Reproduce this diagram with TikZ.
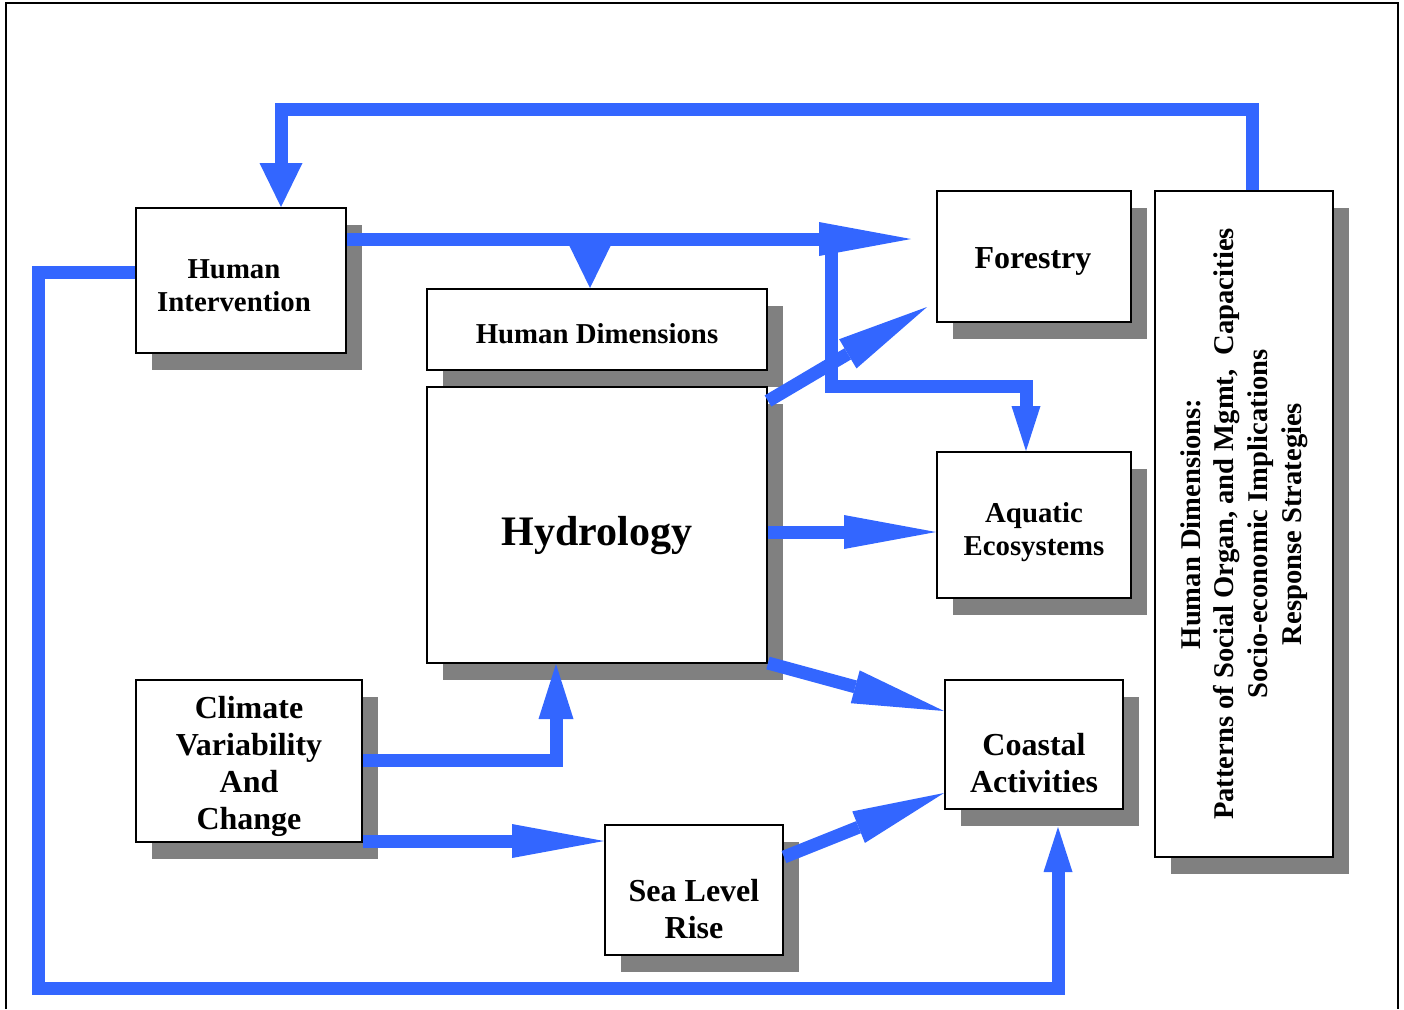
\documentclass[tikz,border=0pt]{standalone}
\usepackage{fontspec}
\setmainfont{Liberation Serif}
\usepackage{tikz}
\usetikzlibrary{arrows.meta,shadows}

\definecolor{flowblue}{RGB}{51,102,255}

\begin{document}
\begin{tikzpicture}[x=0.5pt,y=-0.5pt,
  main box/.style={draw,line width=1pt,fill=white,inner sep=0pt,
    drop shadow={shadow xshift=8pt,shadow yshift=-8.5pt,fill=black!50,opacity=1}},
  small text/.style={align=center,font=\fontsize{14.4}{16.5}\selectfont\bfseries},
  big text/.style={align=center,font=\fontsize{16}{18.5}\selectfont\bfseries},
  flow/.style={draw=flowblue,line width=6.5pt},
  long head/.style={-{Triangle[length=46pt,width=17pt,line width=0pt]}},
  mid head/.style={-{Triangle[length=27.5pt,width=17.5pt,line width=0pt]}},
  wide head/.style={-{Triangle[length=22pt,width=21.5pt,line width=0pt]}},
  short head/.style={-{Triangle[length=22.5pt,width=14.5pt,line width=0pt]}}]

  \useasboundingbox (0,0) rectangle (1404,1009);
  \draw [line width=1pt] (6,1009) -- (6,3) -- (1398,3) -- (1398,1009);

  \node[main box,minimum width=105pt,minimum height=72.5pt,
    label={[small text,shift={(-3.5pt,-2.5pt)}]center:Human\\Intervention}] (hi) at (241,280.5) {};
  \node[main box,minimum width=170pt,minimum height=40.5pt,
    label={[small text,shift={(0pt,-2pt)}]center:Human Dimensions}] (hd) at (597,329.5) {};
  \node[main box,minimum width=170pt,minimum height=138pt,
    label={[font=\fontsize{21}{25}\selectfont\bfseries,shift={(0pt,-5.5pt)}]center:Hydrology}] (hydro) [below of=hd,node distance=97.75pt] {};
  \node[main box,minimum width=113pt,minimum height=81pt,
    label={[big text,shift={(0pt,-2.5pt)}]center:Climate\\Variability\\And\\Change}] (climate) at (249,761) {};
  \node[main box,minimum width=89pt,minimum height=65pt,
    label={[big text,shift={(0pt,-9.5pt)}]center:Sea Level\\Rise}] (sea) at (694,890) {};

  \node[main box,minimum width=97pt,minimum height=65.5pt,
    label={[big text,shift={(-0.5pt,-2.5pt)}]center:Forestry}] (forest) at (1034,256.5) {};
  \node[main box,minimum width=97pt,minimum height=73pt,
    label={[small text,shift={(0pt,-3.5pt)}]center:Aquatic\\Ecosystems}] (aqua) [below of=forest,node distance=134.25pt] {};
  \node[main box,minimum width=89pt,minimum height=64.5pt,
    label={[big text,shift={(0pt,-9.5pt)}]center:Coastal\\Activities}] (coast) [below of=aqua,node distance=109.75pt] {};

  \node[main box,minimum width=89pt,minimum height=333pt] (resp) at (1244,524) {};
  \node[rotate=90,align=center,font=\fontsize{14.3}{16.8}\selectfont\bfseries] (resptext) at (resp) {Human Dimensions:\\Patterns of Social Organ, and Mgmt,\ \ Capacities\\Socio-economic Implications\\Response Strategies};

  \draw [flow,wide head] (resp.north -| 1252,0) |- (281,109) -- (hi.north -| 281,0);
  \draw [flow,short head,shorten >=8.5pt] (hi.west |- 0,272) -| (38,988) -| (coast.south -| 1058,0);

  \draw [flow,long head,shorten >=12.5pt] (hi.east |- 0,239) -- (forest.west |- 0,239);
  \draw [flow,wide head] (590,239) -- (hd.north -| 590,0);
  \draw [flow,short head] (831,239) |- (1026,386) -- (aqua.north -| 1026,0);

  \draw [flow,long head] (hydro.east |- 0,401) -- ([shift={(-9,-16)}]forest.south west);
  \draw [flow,long head] (hydro.east |- 0,532) -- (aqua.west |- 0,532);
  \draw [flow,long head] (hydro.east |- 0,663) -- (coast.west |- 0,711);

  \draw [flow,mid head] (climate.east |- 0,760) -| (hydro.south -| 556,0);
  \draw [flow,long head] (climate.east |- 0,841) -- (sea.west |- 0,841);
  \draw [flow,long head] (sea.east |- 0,857) -- (coast.west |- 0,793);

\end{tikzpicture}
\end{document}
